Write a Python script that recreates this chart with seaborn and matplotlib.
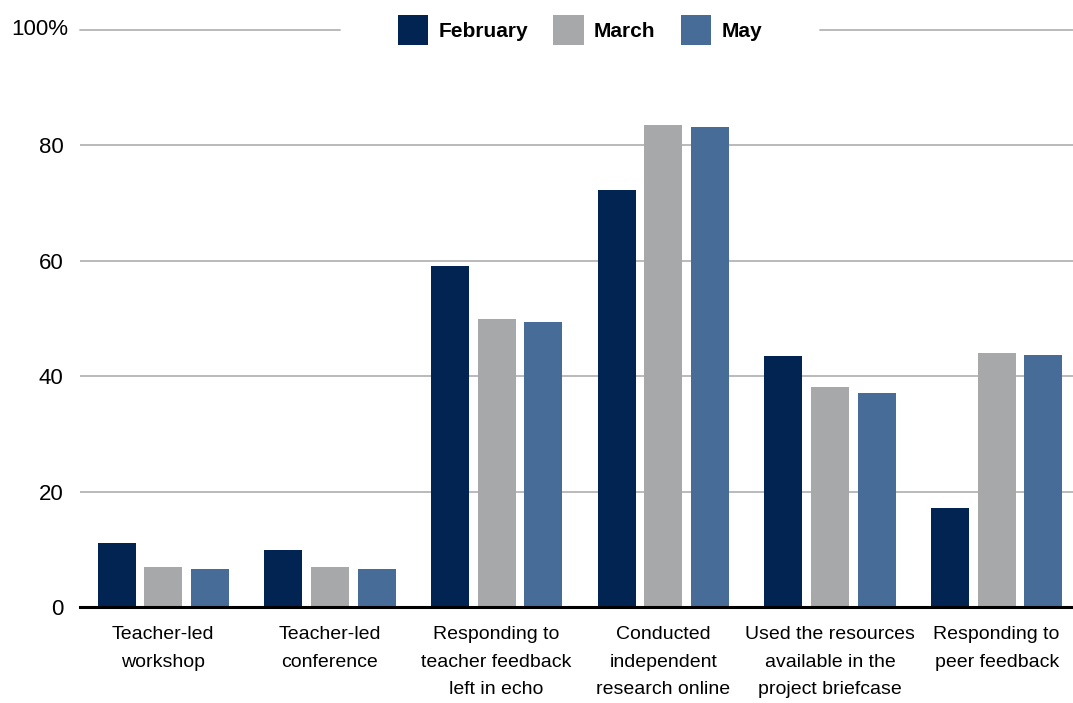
import matplotlib
matplotlib.use("Agg")
import matplotlib.pyplot as plt
import seaborn as sns
import pandas as pd

# values (percent)
categories = [
    "Teacher-led\nworkshop",
    "Teacher-led\nconference",
    "Responding to\nteacher feedback\nleft in echo",
    "Conducted\nindependent\nresearch online",
    "Used the resources\navailable in the\nproject briefcase",
    "Responding to\npeer feedback",
]
months = ["February", "March", "May"]
february = [11.1, 9.9, 59.1, 72.3, 43.5, 17.2]
march = [6.9, 6.9, 49.9, 83.5, 38.1, 44.0]
may = [6.6, 6.6, 49.4, 83.2, 37.1, 43.7]
colors = ["#022452", "#A7A8AA", "#476C98"]
yticks = [0, 20, 40, 60, 80, 100]
ytick_labels = ["0", "20", "40", "60", "80", "100%"]

df = pd.DataFrame({
    "category": categories * 3,
    "month": [m for m in months for _ in categories],
    "value": february + march + may,
})

sns.set_style("white")
plt.rcParams["font.family"] = ["Liberation Sans", "DejaVu Sans"]
plt.rcParams["text.color"] = "black"
plt.rcParams["xtick.color"] = "black"
plt.rcParams["ytick.color"] = "black"

fig = plt.figure(figsize=(10.73, 7.03), dpi=100)
ax = fig.add_axes([80 / 1073, 96 / 703, 1000 / 1073, 582.8 / 703])

sns.barplot(data=df, x="category", y="value", hue="month", order=categories,
            hue_order=months, palette=colors, width=0.84, gap=0.18,
            saturation=1, linewidth=0, ax=ax)

ax.set_xlim(-0.5, 5.5)
ax.set_ylim(0, 101)
ax.set_yticks(yticks[:-1])
ax.set_yticklabels(ytick_labels[:-1])
ax.set_xlabel("")
ax.set_ylabel("")

for y in yticks[1:-1]:
    ax.axhline(y, color="#b4b4b4", lw=1.3, zorder=0)
# top gridline is interrupted by the legend
ax.axhline(100, xmin=0, xmax=0.26, color="#b4b4b4", lw=1.3, zorder=0, clip_on=False)
ax.axhline(100, xmin=0.74, xmax=1, color="#b4b4b4", lw=1.3, zorder=0, clip_on=False)
ax.text(-0.012, 100, ytick_labels[-1], transform=ax.get_yaxis_transform(),
        ha="right", va="center", fontsize=16)

for s in ["top", "right", "left"]:
    ax.spines[s].set_visible(False)
ax.spines["bottom"].set_color("black")
ax.spines["bottom"].set_linewidth(2.2)
ax.spines["bottom"].set_zorder(5)

ax.tick_params(axis="y", length=0, labelsize=16, pad=12)
ax.tick_params(axis="x", length=0, labelsize=14, pad=14)
for lab in ax.get_xticklabels():
    lab.set_linespacing(1.8)
    lab.set_va("top")

leg = ax.legend(loc="center", bbox_to_anchor=(0.5, 100), bbox_transform=ax.get_yaxis_transform(),
                ncol=3, frameon=False, handlelength=1.45, handleheight=1.8,
                handletextpad=0.5, columnspacing=1.2, prop={"weight": "bold", "size": 15})
for h in leg.legend_handles:
    h.set_edgecolor("none")

fig.savefig("out.png", dpi=100)
